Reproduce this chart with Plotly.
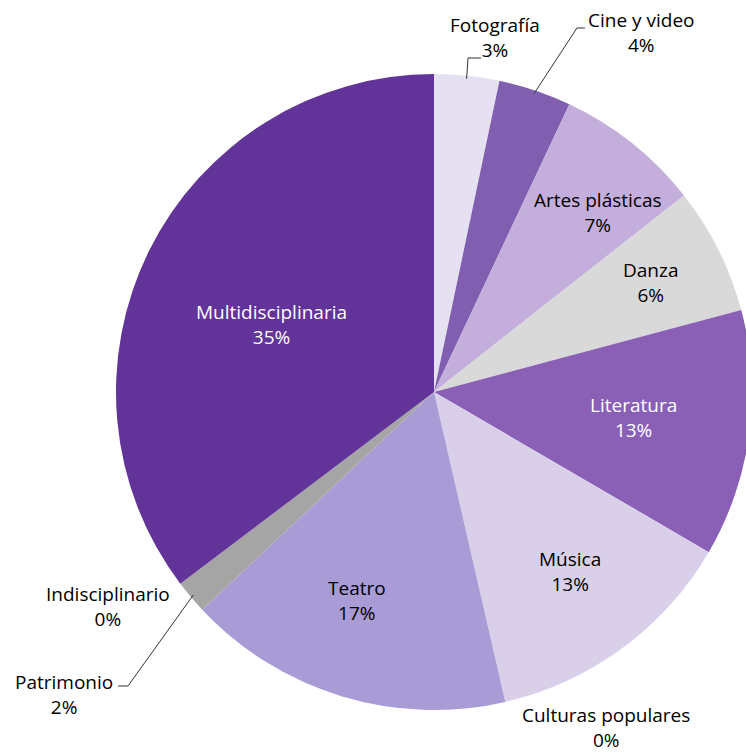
import math
import plotly.graph_objects as go

# slices, clockwise from 12 o'clock
labels = ['Fotografía', 'Cine y video', 'Artes plásticas', 'Danza', 'Literatura', 'Música',
          'Culturas populares', 'Teatro', 'Patrimonio', 'Indisciplinario', 'Multidisciplinaria']
values = [3.3, 3.7, 7.4, 6.45, 12.55, 13.0, 0.0, 16.6, 1.7, 0.0, 35.3]
colors = ['#E6E0F3', '#805EB0', '#C4AEDB', '#D9D9D9', '#8A5FB6', '#DACFE9',
          '#B9A7DA', '#A99BD5', '#A5A5A5', '#8E8E8E', '#623398']
pct_text = [f"{round(v)}%" for v in values]

# figure is a bit wider than the window so the pie runs off the right edge
W, H = 760, 753
cx, cy, R = 434, 392, 318
FONT = "Open Sans"
FS = 19

fig = go.Figure(go.Pie(
    labels=labels, values=values, sort=False, direction='clockwise', rotation=0,
    marker=dict(colors=colors, line=dict(width=0)),
    textinfo='none', showlegend=False, hoverinfo='label+percent',
    domain=dict(x=[(cx - R) / W, (cx + R) / W], y=[1 - (cy + R) / H, 1 - (cy - R) / H]),
))

# mid angle of each slice (degrees clockwise from top), used for leader lines
total = sum(values)
mid = []
acc = 0
for v in values:
    mid.append((acc + v / 2) / total * 360)
    acc += v

def polar(ang, frac):
    a = math.radians(ang)
    return cx + frac * R * math.sin(a), cy - frac * R * math.cos(a)

def px(x, y):
    return x / W, 1 - y / H

# label centre (pixels) and optional leader elbow/end
label_pos = {
    'Fotografía': ((495, 38), [(468, 58), (481, 58)]),
    'Cine y video': ((641, 33), [(577, 28), (585, 28)]),
    'Artes plásticas': ((598, 213), None),
    'Danza': ((650, 282), None),
    'Literatura': ((633, 418), None),
    'Música': ((570, 571), None),
    'Culturas populares': ((606, 727), None),
    'Teatro': ((357, 600), None),
    'Patrimonio': ((64, 694), [(128, 686), (118, 686)]),
    'Indisciplinario': ((108, 606), None),
    'Multidisciplinaria': ((271, 324), None),
}
white = {'Literatura', 'Multidisciplinaria'}

annotations = []
shapes = []
for i, lab in enumerate(labels):
    (tx, ty), line = label_pos[lab]
    ax, ay = px(tx, ty)
    annotations.append(dict(
        x=ax, y=ay, xref='paper', yref='paper', showarrow=False,
        xanchor='center', yanchor='middle', align='center',
        text=f"{lab}<br>{pct_text[i]}",
        font=dict(family=FONT, size=FS, color='white' if lab in white else 'black')))
    if line:
        sx, sy = polar(mid[i], 0.99)
        pts = [(sx, sy)] + line
        path = 'M ' + ' L '.join(f"{px(x, y)[0]:.5f},{px(x, y)[1]:.5f}" for x, y in pts)
        shapes.append(dict(type='path', xref='paper', yref='paper', path=path,
                           line=dict(color='#333333', width=1)))

fig.update_layout(
    width=W, height=H,
    margin=dict(l=0, r=0, t=0, b=0),
    paper_bgcolor='white', plot_bgcolor='white',
    font=dict(family=FONT, size=FS, color='black'),
    annotations=annotations, shapes=shapes,
)

fig.write_html("out.html", config={'displayModeBar': False},
               post_script="document.body.style.margin='0';document.body.style.overflow='hidden';")
